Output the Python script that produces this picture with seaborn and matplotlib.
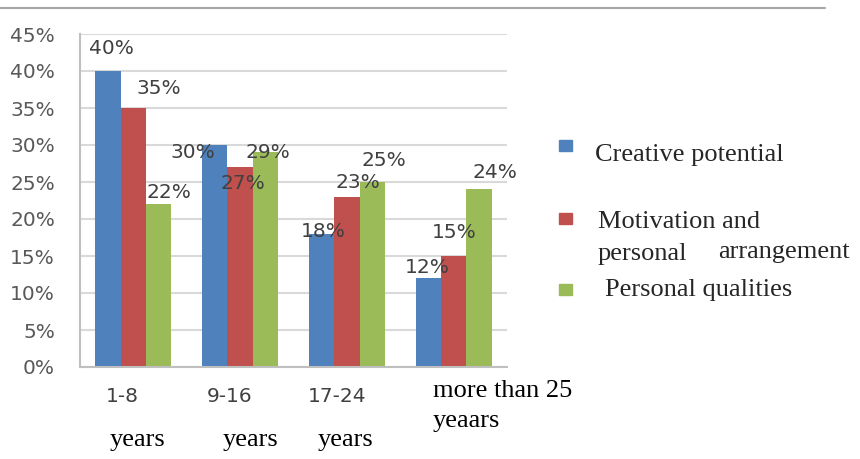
import matplotlib
matplotlib.use("Agg")
import matplotlib.pyplot as plt
import matplotlib.lines as mlines
import matplotlib.patches as mpatches
import seaborn as sns
import pandas as pd

categories = ["1-8 years", "9-16 years", "17-24 years", "more than 25 yeaars"]
series = ["Creative potential", "Motivation and personal arrangement", "Personal qualities"]
creative = [40, 30, 18, 12]
motivation = [35, 27, 23, 15]
qualities = [22, 29, 25, 24]
yticks = [0, 5, 10, 15, 20, 25, 30, 35, 40, 45]
colors = ["#4F81BD", "#C0504D", "#9BBB59"]

rows = []
for s, vals in zip(series, [creative, motivation, qualities]):
    for c, v in zip(categories, vals):
        rows.append({"cat": c, "series": s, "value": v})
df = pd.DataFrame(rows)

sns.set_style("white")
plt.rcParams["font.family"] = ["DejaVu Sans"]

W, H = 860, 459
fig = plt.figure(figsize=(W / 100, H / 100), dpi=100)
ax = fig.add_axes([80 / W, 1 - 367 / H, (507 - 80) / W, (367 - 34) / H])

sns.barplot(data=df, x="cat", y="value", hue="series", palette=colors,
            width=0.71, ax=ax, legend=False, saturation=1, edgecolor="none")

SANS = 14.5
ax.set_ylim(0, 45)
ax.set_xlim(-0.5, 3.5)
ax.set_yticks(yticks)
ax.set_yticklabels([f"{t}%" for t in yticks], fontsize=SANS, color="#595959")
ax.tick_params(axis="y", length=0, pad=18)
ax.set_xticks([])
ax.set_xticks([-0.5, 0.5, 1.5, 2.5, 3.5], minor=True)
ax.tick_params(axis="x", which="minor", length=6, width=1.5, color="#BFBFBF", direction="out")
ax.set_xlabel("")
ax.set_ylabel("")
ax.yaxis.grid(True, color="#D9D9D9", linewidth=1.5)
ax.set_axisbelow(True)
for side in ["top", "right"]:
    ax.spines[side].set_visible(False)
for side in ["left", "bottom"]:
    ax.spines[side].set_color("#BFBFBF")
    ax.spines[side].set_linewidth(1.5)

# data labels with per-bar pixel offsets
offsets = [
    [(3, 23), (-22, -7), (2, 2), (-1, 11)],
    [(25, 20), (3, -16), (11, 14), (1, 23)],
    [(10, 12), (2, 0), (12, 22), (16, 17)],
]
for si, cont in enumerate(ax.containers):
    for ci, bar in enumerate(cont):
        v = bar.get_height()
        dx, dy = offsets[si][ci]
        ax.annotate(f"{int(round(v))}%", (bar.get_x() + bar.get_width() / 2, v),
                    xytext=(dx, dy), textcoords="offset pixels",
                    ha="center", va="center", fontsize=SANS, color="#404040")

def px(x, y):
    return x / W, 1 - y / H

serif = ["Liberation Serif", "DejaVu Serif"]
SERIF = 19
# category labels
cat_top = ["1-8", "9-16", "17-24"]
top_x = [122, 230, 337]
bot_x = [137, 250, 345]
for t, xt, xb in zip(cat_top, top_x, bot_x):
    fig.text(*px(xt, 396), t, ha="center", va="center", fontsize=SANS, color="#404040")
    fig.text(*px(xb, 440), "years", ha="center", va="center", fontsize=SERIF, color="black", family=serif)
fig.text(*px(433, 391), "more than 25", ha="left", va="center", fontsize=SERIF, color="black", family=serif)
fig.text(*px(433, 421), "yeaars", ha="left", va="center", fontsize=SERIF, color="black", family=serif)

# legend
for (x, y), c in zip([(559, 140), (559, 213), (559, 284)], colors):
    fig.add_artist(mpatches.Rectangle(px(x, y + 11), 13 / W, 11 / H, color=c,
                                      transform=fig.transFigure))
fig.text(*px(595, 155), "Creative potential", ha="left", va="center", fontsize=SERIF, family=serif)
fig.text(*px(598, 222), "Motivation and", ha="left", va="center", fontsize=SERIF, family=serif)
fig.text(*px(598, 254), "personal", ha="left", va="center", fontsize=SERIF, family=serif)
fig.text(*px(718, 252), "arrangement", ha="left", va="center", fontsize=SERIF, family=serif)
fig.text(*px(605, 290), "Personal qualities", ha="left", va="center", fontsize=SERIF, family=serif)

# top border line
fig.add_artist(mlines.Line2D([0, 825 / W], [1 - 8 / H, 1 - 8 / H], color="#A6A6A6",
                             linewidth=1.5, transform=fig.transFigure))

fig.savefig("out.png", dpi=100)
